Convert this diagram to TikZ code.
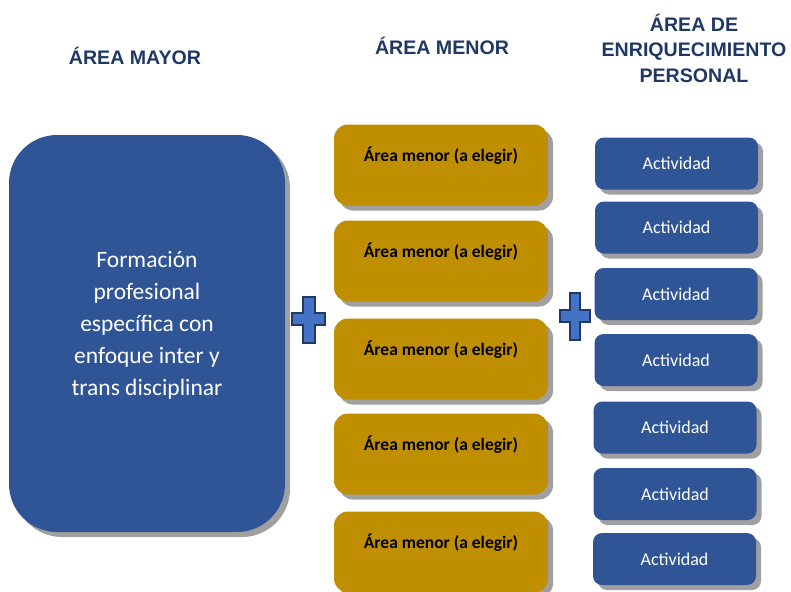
\documentclass[tikz,border=0pt]{standalone}
\usepackage{fontspec}
\setmainfont{Carlito}
\newfontfamily\hdrfont{Liberation Sans}
\usetikzlibrary{shadows,calc}
\definecolor{boxblue}{HTML}{2F5597}
\definecolor{boxgold}{HTML}{BF8F00}
\definecolor{shadowgray}{HTML}{A0A0A0}
\definecolor{plusfill}{HTML}{4472C4}
\definecolor{plusline}{HTML}{1F3864}
\definecolor{hdrcolor}{HTML}{1F3864}
\tikzset{
  myshadow/.style={drop shadow={shadow xshift=5pt, shadow yshift=-5pt, fill=shadowgray, opacity=1}},
  bigbox/.style={fill=boxblue, rounded corners=48pt, minimum width=276pt, minimum height=397pt, inner sep=0pt, myshadow},
  minorbox/.style={fill=boxgold, rounded corners=14pt, minimum width=214pt, minimum height=81pt, inner sep=0pt, myshadow},
  actbox/.style={fill=boxblue, rounded corners=9pt, minimum width=163pt, minimum height=52pt, inner sep=0pt, myshadow},
  minortext/.style={font=\fontsize{17.5}{20}\selectfont\bfseries, text=black},
  acttext/.style={font=\fontsize{18}{21}\selectfont, text=white},
  bigtext/.style={font=\fontsize{23.5}{32}\selectfont, text=white, align=center},
  header/.style={font=\hdrfont\fontsize{19.6}{25.5}\selectfont\bfseries, text=hdrcolor, align=center},
  plussign/.style={fill=plusfill, draw=plusline, line width=2pt, line join=miter}
}
\begin{document}
\begin{tikzpicture}[x=1pt,y=-1pt]
\useasboundingbox (0,0) rectangle (791,591);
% headers
\node[header] (h1) at (135,56) {ÁREA MAYOR};
\node[header] (h2) at (442,46) {ÁREA MENOR};
\node[header] (h3) at (694,48) {ÁREA DE\\ENRIQUECIMIENTO\\PERSONAL};
% big box
\node[bigbox] (big) at (147,333.5) {};
\node[bigtext] (bigt) at ($(big.center)+(0,-8)$) {Formación\\profesional\\específica con\\enfoque inter y\\trans disciplinar};
% minor boxes
\foreach \i/\y in {1/165,2/261,3/359,4/454,5/552}{
  \node[minorbox] (m\i) at (441,\y) {};
  \node[minortext] (mt\i) at ($(m\i.center)+(0,-9)$) {Área menor (a elegir)};
}
% activity boxes
\foreach \i/\x/\y in {1/676.5/163.5,2/676.5/227.5,3/676/294,4/676/360,5/675/427.5,6/675/494,7/674.5/559}{
  \node[actbox] (a\i) at (\x,\y) {};
  \node[acttext] (at\i) at (a\i.center) {Actividad};
}
% plus signs
\draw[plussign] (303,297) -- (315,297) -- (315,313) -- (325,313) -- (325,325) -- (315,325) -- (315,343) -- (303,343) -- (303,325) -- (292,325) -- (292,313) -- (303,313) -- cycle;
\draw[plussign] (570,293) -- (580,293) -- (580,310) -- (590,310) -- (590,322) -- (580,322) -- (580,340) -- (570,340) -- (570,322) -- (560,322) -- (560,310) -- (570,310) -- cycle;
\end{tikzpicture}
\end{document}
